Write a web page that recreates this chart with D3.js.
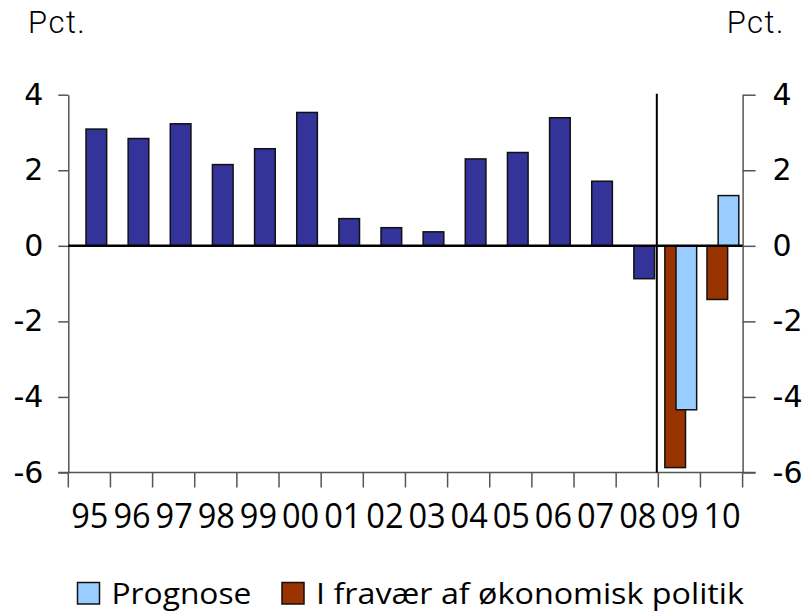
<!DOCTYPE html>
<html>
<head>
<meta charset="utf-8">
<script src="https://cdn.jsdelivr.net/npm/d3@7"></script>
<style>
	body { margin: 0; background: #fff; }
	#chart { width: 805px; height: 613px; }
</style>
</head>
<body>
<div id="chart"></div>
<script>
// data
const categories = ["95","96","97","98","99","00","01","02","03","04","05","06","07","08","09","10"];
const actual   = [3.09, 2.84, 3.23, 2.15, 2.57, 3.53, 0.72, 0.48, 0.37, 2.30, 2.47, 3.39, 1.71, -0.87, null, null];
const prognose = [null, null, null, null, null, null, null, null, null, null, null, null, null, null, -4.34, 1.33];
const fravaer  = [null, null, null, null, null, null, null, null, null, null, null, null, null, null, -5.87, -1.42];
const yTicks = [4, 2, 0, -2, -4, -6];
const legendLabels = ["Prognose", "I fravær af økonomisk politik"];

const c_actual = "#333399",
	c_prognose = "#99CCFF",
	c_fravaer = "#993300",
	c_axis = "#555555";

const label_font = "'Open Sans', 'Liberation Sans', sans-serif";

let margin = { top: 94.7, left: 68.3, right: 62.4, bottom: 140.5 };
let W = 805, H = 613;

let svg = d3.select("#chart")
	.append("svg")
	.attr("width", W)
	.attr("height", H);

// scales
let x = d3.scaleBand()
	.domain(categories)
	.range([margin.left, W - margin.right])
	.padding(0);

let y = d3.scaleLinear()
	.domain([-6, 4])
	.range([H - margin.bottom, margin.top]);

let bw = x.bandwidth();
let barW = bw * 0.49;
let offMain = bw * 0.42;
let offBrown = bw * 0.155;

// bottom axis (-6 line with ticks at category boundaries)
let bottom = svg.append("g").attr("id", "bottom_axis");
bottom.append("line")
	.attr("x1", margin.left - 10).attr("x2", W - margin.right + 13)
	.attr("y1", y(-6)).attr("y2", y(-6))
	.attr("stroke", c_axis).attr("stroke-width", 1.5);
bottom.selectAll("line.tk")
	.data(categories.concat(["end"]))
	.enter()
	.append("line")
	.attr("class", "tk")
	.attr("x1", (d, i) => margin.left + i * bw)
	.attr("x2", (d, i) => margin.left + i * bw)
	.attr("y1", y(-6)).attr("y2", y(-6) + 15)
	.attr("stroke", c_axis).attr("stroke-width", 1.5);
bottom.selectAll("text")
	.data(categories)
	.enter()
	.append("text")
	.attr("transform", d => "translate(" + (x(d) + bw / 2 + 0.5) + ",528) scale(0.93,1)")
	.attr("text-anchor", "middle")
	.style("font-family", label_font)
	.style("font-size", "35px")
	.text(d => d);

// left axis
let axisL = svg.append("g")
	.attr("transform", "translate(" + margin.left + ",0)")
	.call(d3.axisLeft(y).tickValues(yTicks).tickSize(10).tickPadding(15).tickSizeOuter(0).tickFormat(d3.format("d")));

// right axis
let axisR = svg.append("g")
	.attr("transform", "translate(" + (W - margin.right) + ",0)")
	.call(d3.axisRight(y).tickValues(yTicks).tickSize(13).tickPadding(17).tickSizeOuter(0).tickFormat(d3.format("d")));

[axisL, axisR].forEach(a => {
	a.select(".domain").attr("stroke", c_axis).attr("stroke-width", 1.5);
	a.selectAll(".tick line").attr("stroke", c_axis).attr("stroke-width", 1.5);
	a.selectAll(".tick text")
		.attr("fill", "#000")
		.style("font-family", "'DejaVu Sans', sans-serif")
		.style("font-size", "30px")
		.text(d => d < 0 ? "-" + Math.abs(d) : d);
});

// bars
let plot = svg.append("g").attr("id", "plot");

function drawBars(values, color, offset, cls) {
	let data = categories.map((c, i) => ({ cat: c, v: values[i] })).filter(d => d.v != null);
	plot.selectAll("rect." + cls)
		.data(data)
		.enter()
		.append("rect")
		.attr("class", cls)
		.attr("x", d => x(d.cat) + offset)
		.attr("width", barW)
		.attr("y", d => y(Math.max(0, d.v)))
		.attr("height", d => Math.abs(y(d.v) - y(0)))
		.attr("fill", color)
		.attr("stroke", "#111")
		.attr("stroke-width", 1.5);
}

drawBars(actual, c_actual, offMain, "act");
drawBars(fravaer, c_fravaer, offBrown, "frav");
drawBars(prognose, c_prognose, offMain, "prog");

// zero line
svg.append("line")
	.attr("x1", margin.left).attr("x2", W - margin.right)
	.attr("y1", y(0)).attr("y2", y(0))
	.attr("stroke", "#000").attr("stroke-width", 2.5);

// forecast divider
let xDiv = x("09") - 1.5;
svg.append("line")
	.attr("x1", xDiv).attr("x2", xDiv)
	.attr("y1", y(4) - 1).attr("y2", y(-6))
	.attr("stroke", "#000").attr("stroke-width", 2);

// unit labels
svg.append("text")
	.attr("x", 28).attr("y", 33)
	.style("font-family", "Roboto, sans-serif")
	.style("font-size", "31px")
	.style("font-weight", 300)
	.style("letter-spacing", "1.5px")
	.text("Pct.");
svg.append("text")
	.attr("x", 785).attr("y", 33)
	.attr("text-anchor", "end")
	.style("font-family", "Roboto, sans-serif")
	.style("font-size", "31px")
	.style("font-weight", 300)
	.style("letter-spacing", "1.5px")
	.text("Pct.");

// legend
let legendColors = [c_prognose, c_fravaer];
let legendX = [77.5, 282];
let legendW = [140, 428];
let legend = svg.append("g").attr("id", "legend");
legendLabels.forEach((lab, i) => {
	legend.append("rect")
		.attr("x", legendX[i]).attr("y", 582.5)
		.attr("width", 22).attr("height", 21.5)
		.attr("fill", legendColors[i])
		.attr("stroke", "#111").attr("stroke-width", 1.5);
	let t = legend.append("text")
		.attr("x", 0).attr("y", 0)
		.style("font-family", label_font)
		.style("font-size", "30px")
		.text(lab);
	let sx = legendW[i] / t.node().getComputedTextLength();
	t.attr("transform", "translate(" + (legendX[i] + 34) + ",603.5) scale(" + sx + ",1)");
});
</script>
</body>
</html>
